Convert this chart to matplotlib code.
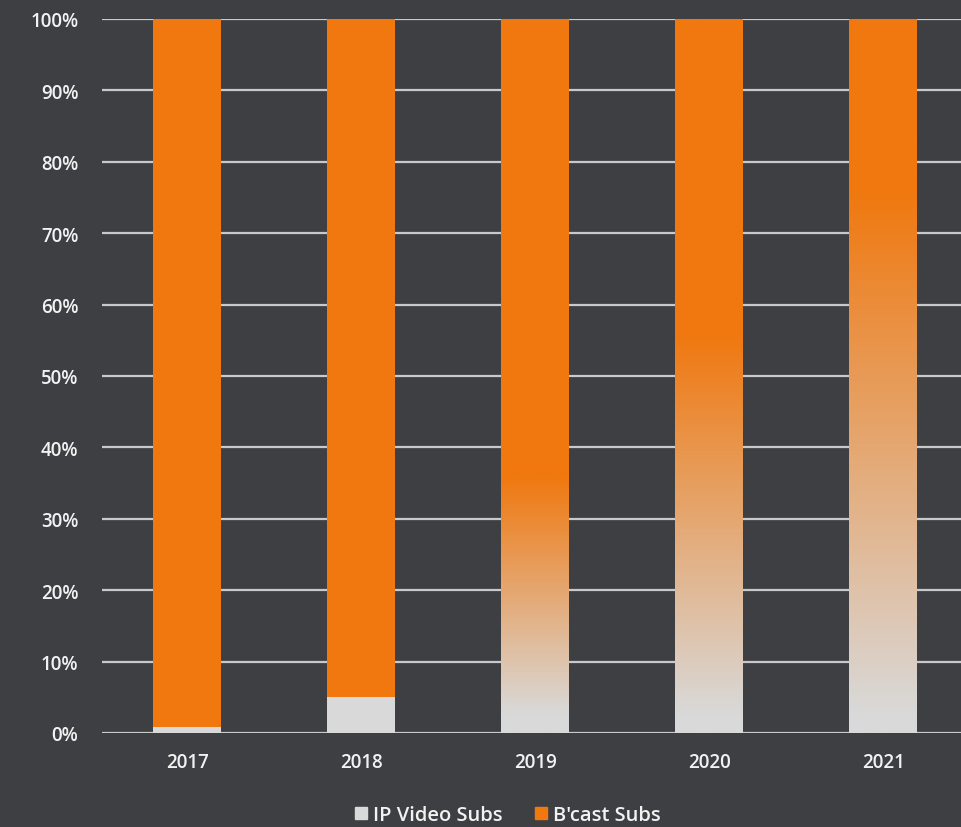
import numpy as np
import matplotlib
matplotlib.use("Agg")
from matplotlib import pyplot as plt
from matplotlib.colors import LinearSegmentedColormap
from matplotlib.patches import Patch

years = ["2017", "2018", "2019", "2020", "2021"]
ip_share = [0.8, 5, 0, 0, 0]            # solid IP Video share (%)
fade_low = [None, None, 2.5, 2.5, 2.5]  # where the fade leaves pure grey (%)
fade_high = [None, None, 36, 56, 76]    # where the fade reaches pure orange (%)

ORANGE = "#f0780f"
GREY = "#d9d9d9"
BG = "#3e3f43"
TXT = "#f2f2f2"

plt.rcParams["font.family"] = ["Open Sans", "DejaVu Sans"]

fig = plt.figure(figsize=(9.61, 8.28), dpi=100, facecolor=BG)
ax = fig.add_axes([102 / 961, 94 / 828, 1 - 102 / 961, (734 - 20) / 828])
ax.set_facecolor(BG)

x = np.arange(len(years))
width = 0.39
cmap = LinearSegmentedColormap.from_list("fade", [GREY, ORANGE])

for i in range(len(years)):
    if fade_high[i] is None:
        ax.bar(x[i], ip_share[i], width, color=GREY, zorder=3)
        ax.bar(x[i], 100 - ip_share[i], width, bottom=ip_share[i], color=ORANGE, zorder=3)
    else:
        ys = np.linspace(0, 100, 400)
        t = np.clip((ys - fade_low[i]) / (fade_high[i] - fade_low[i]), 0, 1)
        ax.imshow(t[::-1, None], cmap=cmap, vmin=0, vmax=1, aspect="auto",
                  extent=[x[i] - width / 2, x[i] + width / 2, 0, 100], zorder=3)

ax.set_xlim(-0.49, 4.447)
ax.set_ylim(0, 100)
ax.set_yticks(range(0, 101, 10))
ax.set_yticklabels([f"{v}%" for v in range(0, 101, 10)], fontweight="semibold")
ax.set_xticks(x)
ax.set_xticklabels(years, fontweight="semibold")
ax.grid(axis="y", color="#c9c9c9", linewidth=1.6, zorder=1)
ax.tick_params(axis="y", length=0, pad=17, colors=TXT, labelsize=13.5)
ax.tick_params(axis="x", length=0, pad=14, colors=TXT, labelsize=13.5)
for s in ax.spines.values():
    s.set_visible(False)

handles = [Patch(color=GREY, label="IP Video Subs"), Patch(color=ORANGE, label="B'cast Subs")]
fig.legend(handles=handles, loc="center", bbox_to_anchor=(508 / 961, 1 - 816 / 828),
           ncol=2, frameon=False, prop={"size": 14.5, "weight": "semibold"}, labelcolor=TXT,
           handlelength=0.6, handleheight=0.6, handletextpad=0.3, columnspacing=1.6)

fig.savefig("out.png", dpi=100, facecolor=BG)
